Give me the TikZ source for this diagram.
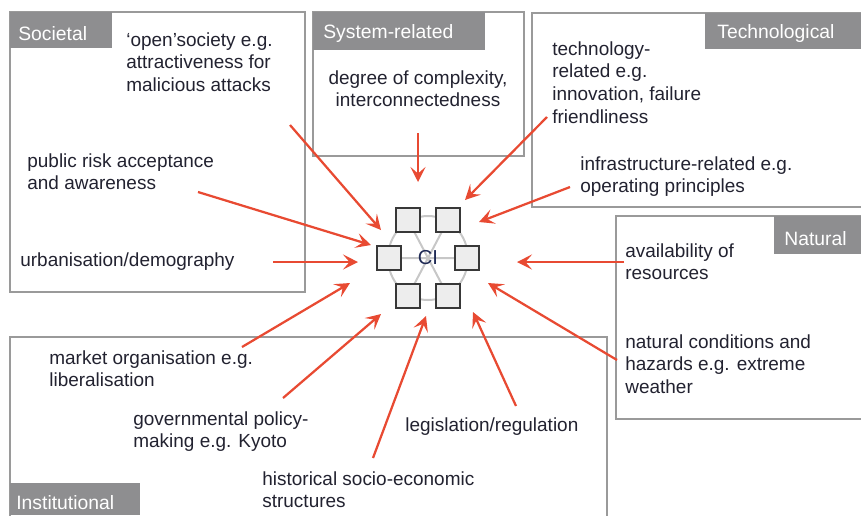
\documentclass[tikz,border=0pt]{standalone}
\usepackage{fontspec}
\setmainfont{Liberation Sans}
\usepackage{tikz}
\usetikzlibrary{arrows.meta}
\definecolor{framegray}{HTML}{9A9A9A}
\definecolor{taggray}{HTML}{8E8E90}
\definecolor{arrowred}{HTML}{E84A32}
\definecolor{inkdark}{HTML}{222230}
\definecolor{cinavy}{HTML}{1F2A55}

\begin{document}
\begin{tikzpicture}[x=0.02cm,y=-0.02cm,
  areabox/.style={draw=framegray,line width=0.03cm},
  areatag/.style={fill=taggray},
  tagtext/.style={anchor=base west,inner sep=0,text=white,font=\fontsize{11}{13}\selectfont},
  factortext/.style={anchor=north west,inner sep=0,align=left,text=inkdark,font=\fontsize{10.8}{13}\selectfont},
  influence/.style={draw=arrowred,line width=0.045cm,-{Stealth[length=0.3cm,width=0.3cm,inset=0.13cm]}},
  cisquare/.style={draw=black!78,fill=black!7,line width=0.035cm,minimum size=0.48cm,inner sep=0},
  cilink/.style={draw=black!22,line width=0.04cm}]
\useasboundingbox (0,0) rectangle (861,515);
\clip (0,0) rectangle (861,515);

\draw[areabox] (10,12) rectangle (305,292);
\draw[areabox] (313,12) rectangle (524,156);
\draw[areabox] (532,13) rectangle (880,207);
\draw[areabox] (616,216) rectangle (880,419);
\draw[areabox] (10,337) rectangle (607,530);

\fill[areatag] (10,12) rectangle (112,48);
\node[tagtext] (societal) at (18,40) {Societal};
\fill[areatag] (313,12) rectangle (485,50);
\node[tagtext] (sysrel) at (323,38) {System-related};
\fill[areatag] (705,13) rectangle (861,49);
\node[tagtext] (techno) at (717,38) {Technological};
\fill[areatag] (774,216) rectangle (861,254);
\node[tagtext] (natural) at (784,245) {Natural};
\fill[areatag] (10,483) rectangle (140,515);
\node[tagtext] (institut) at (16,509) {Institutional};

\coordinate (hub) at (428,258);
\coordinate (ptl) at (408,220);
\coordinate (ptr) at (448,220);
\coordinate (pml) at (389,258);
\coordinate (pmr) at (467,258);
\coordinate (pbl) at (408,296);
\coordinate (pbr) at (448,296);
\draw[cilink] (hub) ellipse[x radius=40,y radius=42];
\draw[cilink] (ptl) -- (pbr) (ptr) -- (pbl) (pml) -- (pmr);
\node[cisquare] (sqtl) at (ptl) {};
\node[cisquare] (sqtr) at (ptr) {};
\node[cisquare] (sqml) at (pml) {};
\node[cisquare] (sqmr) at (pmr) {};
\node[cisquare] (sqbl) at (pbl) {};
\node[cisquare] (sqbr) at (pbr) {};
\node[inner sep=0,text=cinavy,font=\fontsize{11.5}{13}\selectfont] (ci) at (hub) {CI};

\node[factortext] (opensoc) at (126,32) {‘open’society e.g.\\attractiveness for\\malicious attacks};
\node[factortext] (pubrisk) at (27,153) {public risk acceptance\\and awareness};
\node[factortext] (urban) at (20,252) {urbanisation/demography};
\node[factortext,anchor=north,align=center] (complex) at (418,70) {degree of complexity,\\interconnectedness};
\node[factortext] (techrel) at (552,41) {technology-\\related e.g.\\innovation, failure\\friendliness};
\node[factortext] (infra) at (580,156) {infrastructure-related e.g.\\operating principles};
\node[factortext] (avail) at (625,243) {availability of\\resources};
\node[factortext] (natcond) at (625,334) {natural conditions and\\hazards e.g. extreme\\weather};
\node[factortext] (market) at (49,350) {market organisation e.g.\\liberalisation};
\node[factortext] (govpol) at (133,411) {governmental policy-\\making e.g. Kyoto};
\node[factortext] (legis) at (405,417) {legislation/regulation};
\node[factortext] (histor) at (262,471) {historical socio-economic\\structures};

\coordinate (opensoc-from) at (290,125);
\coordinate (opensoc-to) at (381,230);
\coordinate (pubrisk-from) at (198,192);
\coordinate (pubrisk-to) at (371,245);
\coordinate (urban-from) at (273,262);
\coordinate (urban-to) at (358,262);
\coordinate (complex-from) at (418,133);
\coordinate (complex-to) at (418,182);
\coordinate (techrel-from) at (547,117);
\coordinate (techrel-to) at (465,200);
\coordinate (infra-from) at (570,187);
\coordinate (infra-to) at (479,222);
\coordinate (avail-from) at (624,262);
\coordinate (avail-to) at (517,262);
\coordinate (natcond-from) at (617,360);
\coordinate (natcond-to) at (488,283);
\coordinate (legis-from) at (516,406);
\coordinate (legis-to) at (473,312);
\coordinate (histor-from) at (373,458);
\coordinate (histor-to) at (426,316);
\coordinate (govpol-from) at (283,398);
\coordinate (govpol-to) at (381,314);
\coordinate (market-from) at (242,347);
\coordinate (market-to) at (350,283);

\draw[influence] (opensoc-from) -- (opensoc-to);
\draw[influence] (pubrisk-from) -- (pubrisk-to);
\draw[influence] (urban-from) -- (urban-to);
\draw[influence] (complex-from) -- (complex-to);
\draw[influence] (techrel-from) -- (techrel-to);
\draw[influence] (infra-from) -- (infra-to);
\draw[influence] (avail-from) -- (avail-to);
\draw[influence] (natcond-from) -- (natcond-to);
\draw[influence] (legis-from) -- (legis-to);
\draw[influence] (histor-from) -- (histor-to);
\draw[influence] (govpol-from) -- (govpol-to);
\draw[influence] (market-from) -- (market-to);
\end{tikzpicture}
\end{document}
